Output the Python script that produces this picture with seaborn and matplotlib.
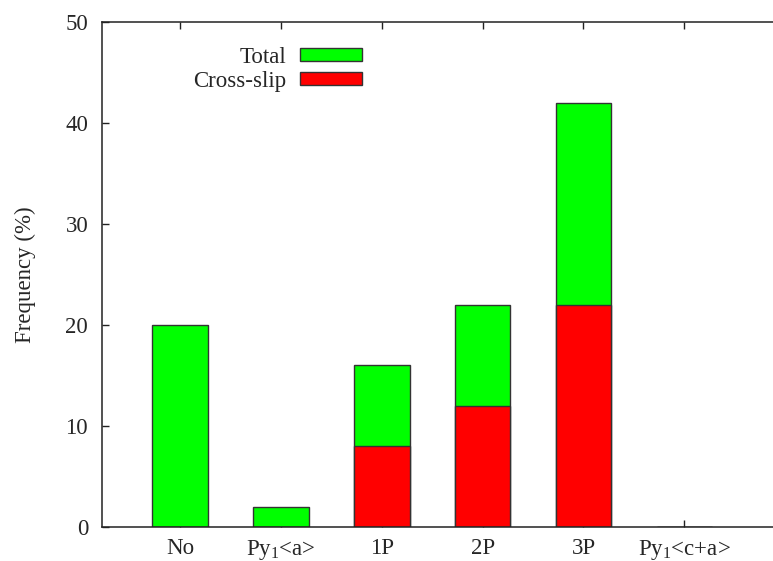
import matplotlib
matplotlib.use("Agg")
import matplotlib.pyplot as plt
import matplotlib.patches as mpatches
import seaborn as sns
import pandas as pd

# Data
categories = ["No", "Py$_{\\mathrm{1}}$<a>", "1P", "2P", "3P", "Py$_{\\mathrm{1}}$<c+a>"]
total = [20, 2, 16, 22, 42, 0]
cross_slip = [0, 0, 8, 12, 22, 0]

sns.set_style("white")
plt.rcParams.update({
    "font.family": ["Liberation Serif", "DejaVu Serif"],
    "mathtext.fontset": "custom",
    "mathtext.rm": "Liberation Serif",
    "mathtext.it": "Liberation Serif:italic",
    "font.size": 16.5,
})

FS = 16.5

df = pd.DataFrame({"cat": categories, "total": total, "cross": cross_slip})

fig = plt.figure(figsize=(7.73, 5.61), dpi=100)
ax = fig.add_axes([0.132, 0.0606, 0.868, 0.9002])

sns.barplot(data=df, x="cat", y="total", color="#00ff00", saturation=1,
            width=0.55, edgecolor="#333333", linewidth=1, ax=ax)
sns.barplot(data=df, x="cat", y="cross", color="#ff0000", saturation=1,
            width=0.55, edgecolor="#333333", linewidth=1, ax=ax)

ax.set_xlim(-0.775, 5.88)
ax.set_ylim(0, 50)
ax.set_yticks([0, 10, 20, 30, 40, 50])
ax.set_xlabel("")
ax.set_ylabel("Frequency (%)", fontsize=FS, labelpad=21)

for side in ["left", "top", "bottom"]:
    ax.spines[side].set_color("#222222")
    ax.spines[side].set_linewidth(1.1)
ax.spines["right"].set_visible(False)

ax.tick_params(axis="x", direction="in", top=True, bottom=True, length=5,
               width=1, color="#222222", labelsize=FS, pad=8)
ax.tick_params(axis="y", direction="in", left=True, right=False, length=5,
               width=1, color="#222222", labelsize=FS, pad=10)

handles = [mpatches.Patch(facecolor="#00ff00", edgecolor="#333333", linewidth=1, label="Total"),
           mpatches.Patch(facecolor="#ff0000", edgecolor="#333333", linewidth=1, label="Cross-slip")]
fig.legend(handles=handles, loc="upper right", bbox_to_anchor=(362 / 773, 1 - 47 / 561),
           frameon=False, markerfirst=False, fontsize=FS, handlelength=2.7,
           handleheight=0.5, handletextpad=0.6, labelspacing=0.12,
           borderpad=0, borderaxespad=0)

fig.savefig("out.png", dpi=100)
